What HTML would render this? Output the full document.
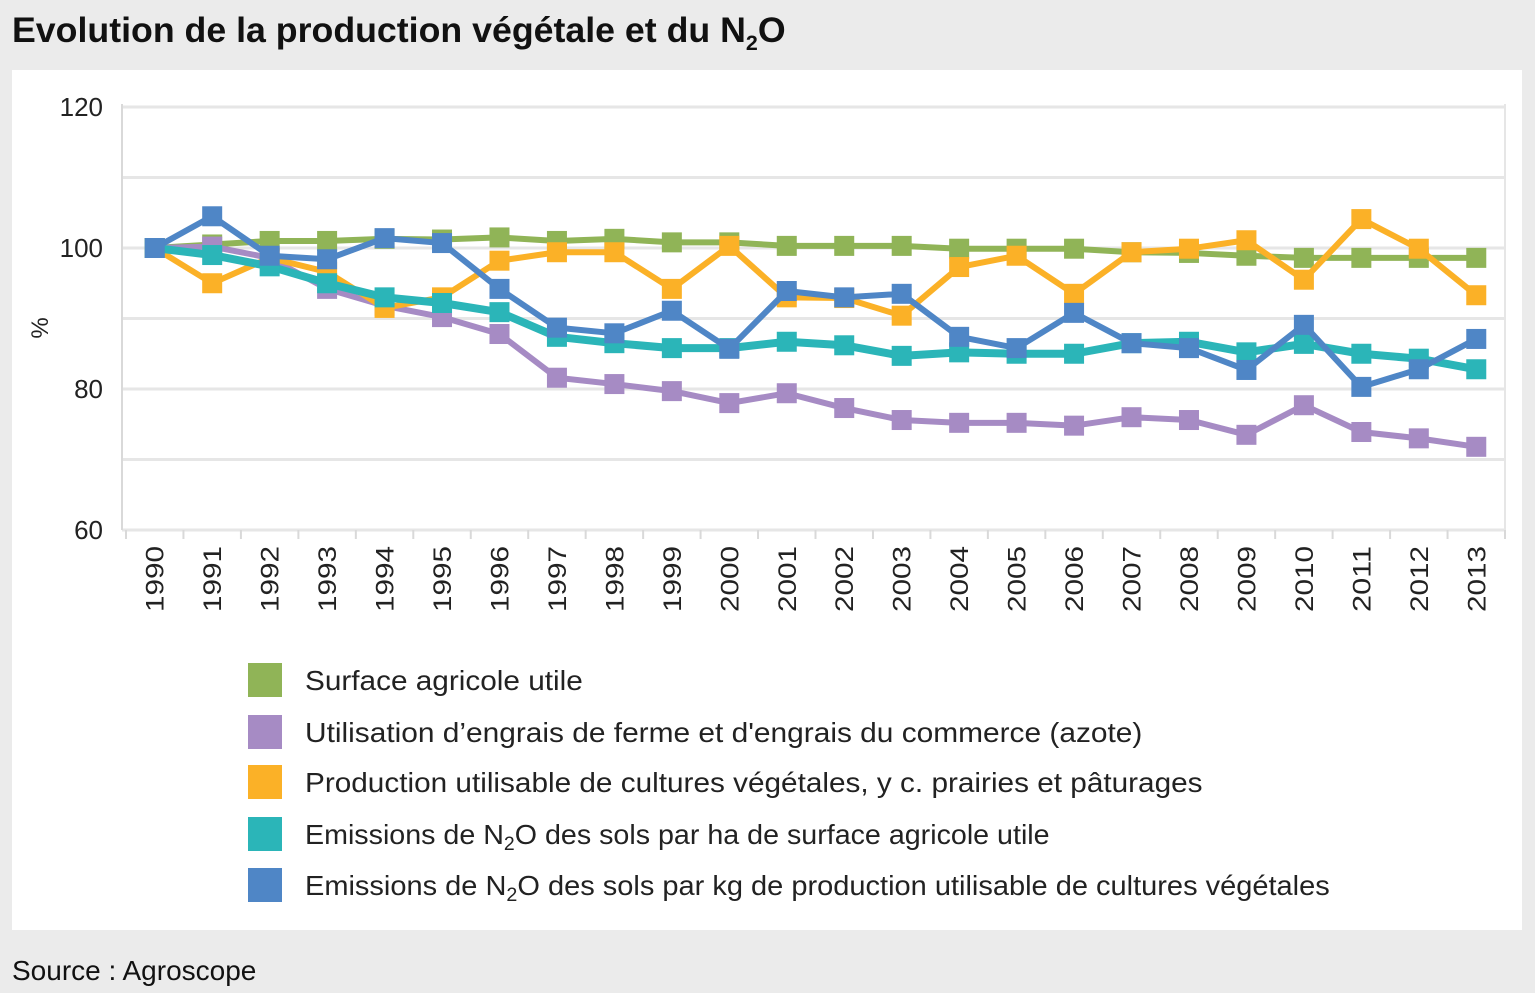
<!DOCTYPE html>
<html><head><meta charset="utf-8"><style>
body{margin:0;width:1535px;height:993px;background:#ebebeb;font-family:"Liberation Sans",sans-serif;overflow:hidden;position:relative}
#title{position:absolute;left:12px;top:11px;font-size:35px;font-weight:bold;color:#111;transform:scaleX(1.02);transform-origin:left top;white-space:nowrap}
#panel{position:absolute;left:12px;top:70px;width:1510px;height:860px;background:#fff}
#src{position:absolute;left:12px;top:955px;font-size:28px;color:#111;white-space:nowrap}
</style></head><body>
<div id="title">Evolution de la production végétale et du N<sub style="font-size:21px">2</sub>O</div>
<div id="panel"></div>
<svg id="chart" width="1535" height="993" style="position:absolute;left:0;top:0"></svg>
<div id="src">Source : Agroscope</div>
<script>
const years=[1990,1991,1992,1993,1994,1995,1996,1997,1998,1999,2000,2001,2002,2003,2004,2005,2006,2007,2008,2009,2010,2011,2012,2013];
const surface=[100,100.5,101,101,101.3,101.2,101.5,101,101.3,100.8,100.8,100.3,100.3,100.3,99.9,99.9,99.9,99.4,99.3,98.9,98.6,98.6,98.6,98.6];
const engrais=[100,100.2,98.6,94.2,91.8,90.2,87.8,81.6,80.7,79.7,78,79.4,77.3,75.6,75.2,75.2,74.8,76,75.6,73.5,77.7,73.9,73,71.8];
const production=[100,95,98.6,96.6,91.5,93,98.2,99.4,99.4,94.2,100.3,93,92.9,90.4,97.3,98.9,93.5,99.4,99.9,101.1,95.5,104.1,99.9,93.3];
const n2oHa=[100,99,97.4,95,93,92.2,90.9,87.4,86.5,85.8,85.8,86.7,86.2,84.7,85.2,85,85,86.5,86.7,85.2,86.4,85,84.3,82.8];
const n2oKg=[100,104.5,98.9,98.4,101.4,100.7,94.2,88.7,87.9,91.1,85.7,93.9,93,93.5,87.4,85.8,90.8,86.5,85.8,82.7,89.1,80.3,82.8,87.1];
const yTicks=[60,80,100,120];
const gridVals=[60,70,80,90,100,110,120];
const seriesNames=["Surface agricole utile","Utilisation d’engrais de ferme et d'engrais du commerce (azote)","Production utilisable de cultures végétales, y c. prairies et pâturages","Emissions de N<tspan font-size='19' dy='6'>2</tspan><tspan dy='-6'>O des sols par ha de surface agricole utile</tspan>","Emissions de N<tspan font-size='19' dy='6'>2</tspan><tspan dy='-6'>O des sols par kg de production utilisable de cultures végétales</tspan>"];
const legLens=[278,838,898,745,1025];
const colors=["#90b457","#a68bc4","#fbb127","#2bb5b8","#4f86c6"];
const svg=document.getElementById('chart');
const NS='http://www.w3.org/2000/svg';
const x0=126,x1=1505,yTop=107,yBot=530;
const band=(x1-x0)/years.length;
const X=i=>x0+band*(i+0.5);
const Y=v=>yBot-(v-60)/60*(yBot-yTop);
function el(t,a){const e=document.createElementNS(NS,t);for(const k in a)e.setAttribute(k,a[k]);svg.appendChild(e);return e;}
gridVals.forEach(v=>{const g=el('line',{x1:122,x2:x1,y1:Y(v),y2:Y(v),stroke:'#e6e6e6','stroke-width':3});

});
const ax=el('line',{x1:122,x2:122,y1:yTop-3,y2:yBot,stroke:'#d9d9d9','stroke-width':2});


const rx=el('line',{x1:x1,x2:x1,y1:yTop-3,y2:yBot,stroke:'#e6e6e6','stroke-width':2});


yTicks.forEach(v=>{const t=el('text',{x:103,y:Y(v)+9,'text-anchor':'end','font-size':26,fill:'#222'});t.textContent=v;

});
const yt=el('text',{x:0,y:0,'font-size':24,fill:'#222',transform:'translate(48,328) rotate(-90)','text-anchor':'middle'});yt.textContent='%';


for(let i=0;i<=years.length;i++){const tk=el('line',{x1:x0+band*i,x2:x0+band*i,y1:yBot,y2:yBot+9,stroke:'#d9d9d9','stroke-width':2});

}
years.forEach((yr,i)=>{const t=el('text',{x:0,y:0,'font-size':25,fill:'#222',textLength:66,lengthAdjust:'spacingAndGlyphs',transform:`translate(${X(i)+9},612) rotate(-90)`});
t.setAttribute('text-anchor','start');
t.textContent=yr;

});
const data=[surface,engrais,production,n2oHa,n2oKg];
const widths=[6,6,6,8,6];
data.forEach((d,s)=>{
 const p=el('polyline',{points:d.map((v,i)=>X(i)+','+Y(v)).join(' '),fill:'none',stroke:colors[s],'stroke-width':widths[s],'stroke-linejoin':'round'});
 
 
 d.forEach((v,i)=>{const r=el('rect',{x:X(i)-10,y:Y(v)-10,width:20,height:20,fill:colors[s]});
 
 });
});
const legY=[680,732,782,834,885];
seriesNames.forEach((n,s)=>{
 const r=el('rect',{x:248,y:legY[s]-17,width:34,height:34,fill:colors[s]});
 
 
 const t=el('text',{x:305,y:legY[s]+10,'font-size':28,fill:'#222'});
 t.innerHTML=n;
 
 
 const w=t.getComputedTextLength();
 if(w>0){t.setAttribute('transform',`translate(305,0) scale(${legLens[s]/w},1) translate(-305,0)`);}
});
</script>
</body></html>
